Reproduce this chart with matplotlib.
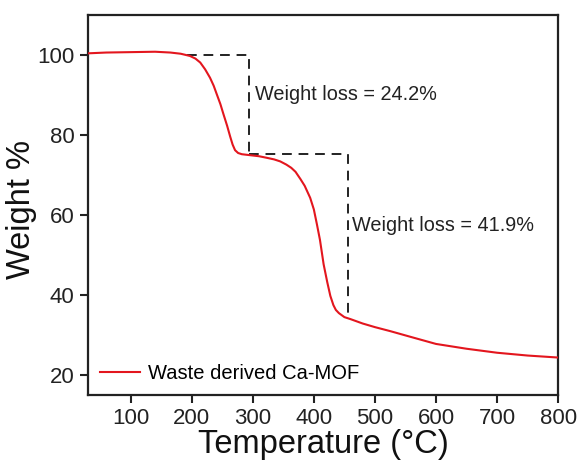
import matplotlib
matplotlib.use("Agg")
import matplotlib.pyplot as plt

plt.rcParams['font.family'] = ['Liberation Sans', 'DejaVu Sans']

temperature = [30, 60, 100, 140, 165, 182, 197, 206, 214, 222, 230, 236, 241, 247, 252,
               258, 263, 267, 271, 276, 282, 293, 310, 323, 335, 345, 355, 363, 370,
               378, 385, 394, 400, 405, 410, 416, 422, 427, 432, 436, 441, 450, 460,
               480, 500, 525, 560, 600, 650, 700, 750, 800]
weight = [100.4, 100.6, 100.7, 100.8, 100.6, 100.3, 99.75, 99.1, 98.1, 96.4, 94.3, 92.3,
          90.2, 87.7, 85.2, 82.3, 79.6, 77.6, 76.2, 75.5, 75.2, 75.0, 74.7, 74.3, 73.9,
          73.4, 72.6, 71.8, 70.8, 69.0, 67.3, 64.3, 61.4, 57.7, 53.8, 47.7, 43.2, 39.8,
          37.5, 36.3, 35.5, 34.5, 34.0, 32.9, 32.0, 31.0, 29.5, 27.8, 26.6, 25.6, 24.9,
          24.4]

step1_x = [192, 293, 293]
step1_y = [100, 100, 75.3]
step2_x = [293, 456, 456]
step2_y = [75.2, 75.2, 35.4]

label_text = ["Weight loss = 24.2%", "Weight loss = 41.9%"]
label_pos = [(303, 90), (462, 57.5)]

xticks = [100, 200, 300, 400, 500, 600, 700, 800]
yticks = [20, 40, 60, 80, 100]

fig = plt.figure(figsize=(5.82, 4.66), dpi=100)
ax = fig.add_axes([0.151, 0.152, 0.808, 0.816])

ax.plot(temperature, weight, color='#e3161e', lw=1.5, label='Waste derived Ca-MOF', zorder=3)
ax.plot(step1_x, step1_y, color='#222222', lw=1.4, ls=(0, (5, 3.5)), zorder=2)
ax.plot(step2_x, step2_y, color='#222222', lw=1.4, ls=(0, (5, 3.5)), zorder=2)

for t, (x, y) in zip(label_text, label_pos):
    ax.text(x, y, t, fontsize=14.3, color='#222222', va='center', ha='left')

ax.set_xlim(30, 800)
ax.set_ylim(15, 110)
ax.set_xticks(xticks)
ax.set_yticks(yticks)
ax.tick_params(axis='both', direction='out', length=6, width=1.5, labelsize=16, colors='#222222')
for s in ax.spines.values():
    s.set_linewidth(1.6)
    s.set_color('#222222')

ax.set_xlabel('Temperature (°C)', fontsize=23.5, color='#111111', labelpad=0)
ax.set_ylabel('Weight %', fontsize=23.5, color='#111111')
ax.yaxis.set_label_coords(-0.108, 0.487)

leg = ax.legend(loc='lower left', frameon=False, fontsize=14.5, handlelength=2.0,
                handletextpad=0.4, bbox_to_anchor=(0.0, 0.0), borderaxespad=0.2)

fig.savefig('out.png', dpi=100)
